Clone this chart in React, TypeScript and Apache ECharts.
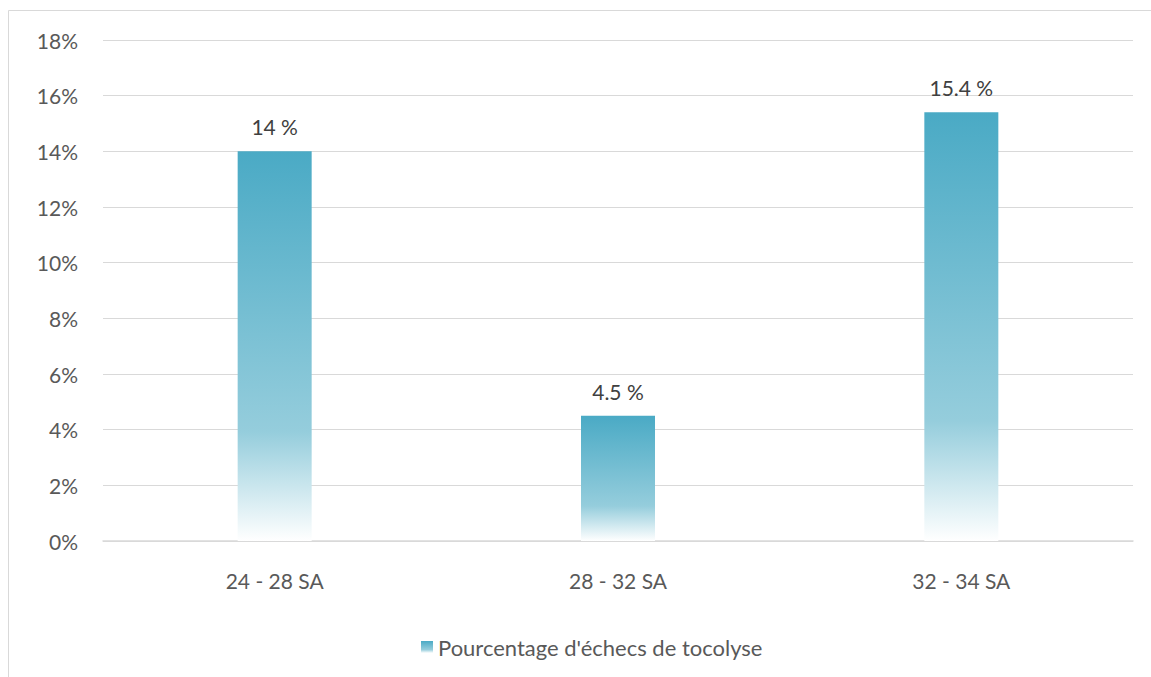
import React, { useEffect, useRef } from "react";
import * as echarts from "echarts";

const categories = ["24 - 28 SA", "28 - 32 SA", "32 - 34 SA"];
const values = [14, 4.5, 15.4];
const valueLabels = ["14 %", "4.5 %", "15.4 %"];
const seriesName = "Pourcentage d'échecs de tocolyse";

export default function App() {
  const ref = useRef<HTMLDivElement>(null);
  useEffect(() => {
    const chart = echarts.init(ref.current!, null, { renderer: "svg" });
    const grad = new echarts.graphic.LinearGradient(0, 0, 0, 1, [
      { offset: 0, color: "#4aaac5" },
      { offset: 0.72, color: "#95cddc" },
      { offset: 1, color: "#ffffff" },
    ]);
    const font = "Lato, 'Open Sans', sans-serif";
    const fs = 21;
    chart.setOption({
      animation: false,
      backgroundColor: "#ffffff",
      textStyle: { fontFamily: font },
      graphic: [
        {
          type: "rect",
          shape: { x: 8.5, y: 10.5, width: 1160, height: 700 },
          style: { fill: "none", stroke: "#d9d9d9", lineWidth: 1 },
          silent: true,
        },
      ],
      grid: { left: 103, right: 18, top: 40, bottom: 136 },
      legend: {
        bottom: 14,
        left: 416,
        itemWidth: 12,
        itemHeight: 12,
        itemGap: 7,
        icon: "rect",
        textStyle: { color: "#595959", fontSize: 22, fontFamily: font },
        data: [{ name: seriesName, itemStyle: { color: grad } }],
      },
      xAxis: {
        type: "category",
        data: categories,
        axisLine: { lineStyle: { color: "#d9d9d9", width: 1.5 } },
        axisTick: { show: false },
        axisLabel: { color: "#595959", fontSize: fs, margin: 29, fontFamily: font },
      },
      yAxis: {
        type: "value",
        min: 0,
        max: 18,
        interval: 2,
        axisLabel: {
          color: "#595959",
          fontSize: fs,
          margin: 25,
          fontFamily: font,
          formatter: (v: number) => v + "%",
        },
        axisLine: { show: false },
        axisTick: { show: false },
        splitLine: { lineStyle: { color: "#d9d9d9", width: 1 } },
      },
      series: [
        {
          name: seriesName,
          type: "bar",
          data: values,
          barWidth: 74,
          itemStyle: { color: grad },
          label: {
            show: true,
            position: "top",
            distance: 14,
            color: "#404040",
            fontSize: fs,
            fontFamily: font,
            formatter: (p: any) => valueLabels[p.dataIndex],
          },
        },
      ],
    });
    return () => chart.dispose();
  }, []);
  return (
    <div
      ref={ref}
      style={{ position: "fixed", left: 0, top: 0, width: 1151, height: 677 }}
    />
  );
}
